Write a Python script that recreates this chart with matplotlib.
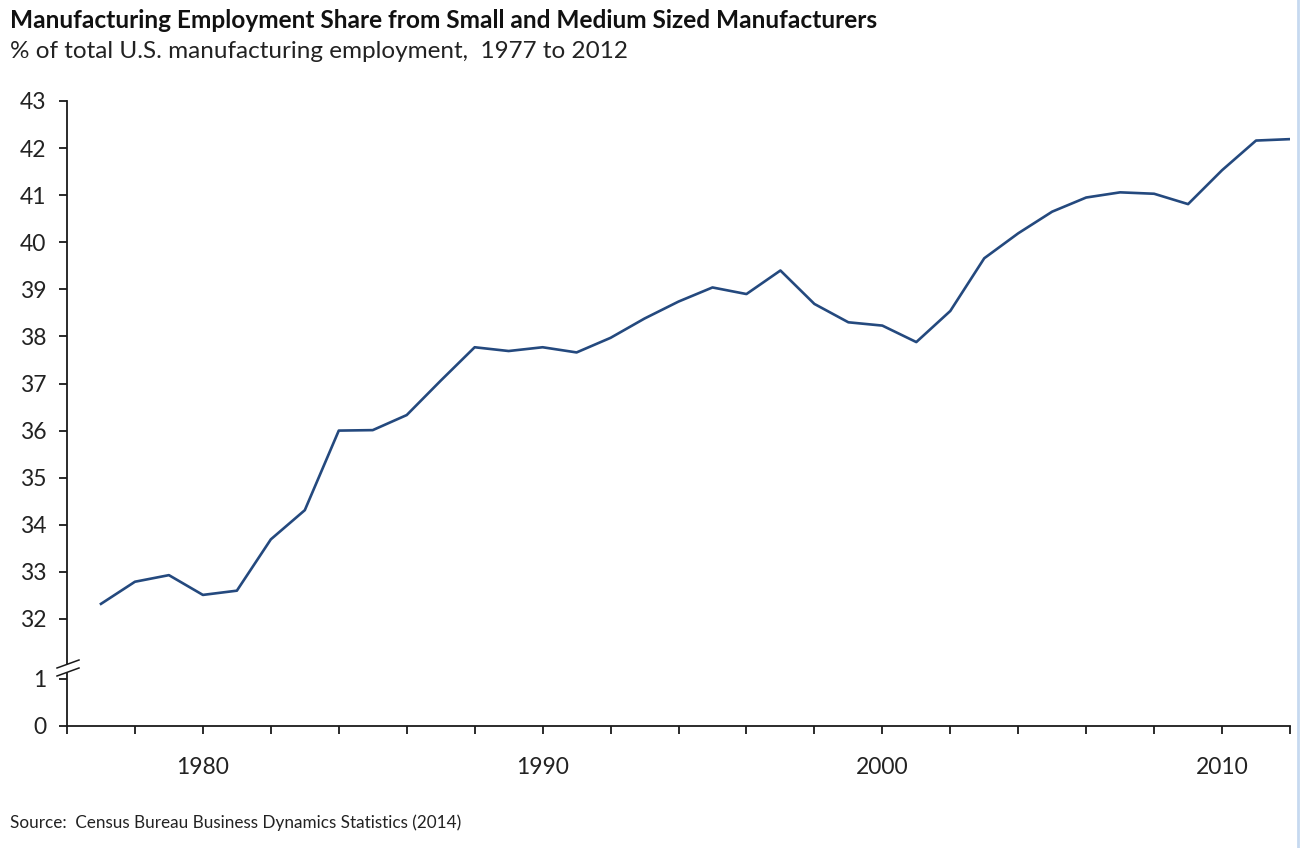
import numpy as np
import matplotlib.pyplot as plt
from matplotlib.ticker import FuncFormatter, NullLocator
from matplotlib.lines import Line2D
from matplotlib.patches import Polygon

# Share of U.S. manufacturing employment at small and medium sized firms (%)
years = np.arange(1977, 2013)
share = [32.32, 32.79, 32.93, 32.51, 32.60, 33.69, 34.31, 36.00, 36.01, 36.33,
         37.06, 37.77, 37.69, 37.77, 37.66, 37.97, 38.38, 38.74, 39.04, 38.90,
         39.40, 38.69, 38.30, 38.23, 37.88, 38.54, 39.66, 40.19, 40.65, 40.95,
         41.06, 41.03, 40.81, 41.53, 42.16, 42.19]

yticks = [0, 1] + list(range(32, 44))
label_years = [1980, 1990, 2000, 2010]

# broken y axis: 1..32 squeezed into a short gap
GAP = 1.274


def fwd(v):
    v = np.asarray(v, dtype=float)
    return np.where(v <= 1, v, np.where(v >= 32, v - 31 + GAP, 1 + (v - 1) * GAP / 31))


def inv(d):
    d = np.asarray(d, dtype=float)
    return np.where(d <= 1, d, np.where(d >= 1 + GAP, d + 31 - GAP, 1 + (d - 1) * 31 / GAP))


plt.rcParams['font.family'] = ['Lato', 'DejaVu Sans']

W, H = 1302, 848
fig = plt.figure(figsize=(W / 100, H / 100), dpi=100)
ax = fig.add_axes([67 / W, (H - 726) / H, (1290 - 67) / W, (726 - 101) / H])

ax.plot(years, share, color='#24497E', lw=1.9, solid_joinstyle='round')

ax.set_yscale('function', functions=(fwd, inv))
ax.set_ylim(0, 43)
ax.set_yticks(yticks)
ax.yaxis.set_minor_locator(NullLocator())
ax.set_xlim(1976, 2012)
ax.set_xticks(np.arange(1976, 2013, 2))
ax.xaxis.set_major_formatter(FuncFormatter(
    lambda x, _: str(int(round(x))) if int(round(x)) in label_years else ''))

for s in ['top', 'right']:
    ax.spines[s].set_visible(False)
for s in ['left', 'bottom']:
    ax.spines[s].set_linewidth(1.3)
    ax.spines[s].set_color('#1a1a1a')

ax.tick_params(axis='y', length=6, width=1.3, color='#1a1a1a', pad=9,
               labelsize=16.5, labelcolor='#222222')
ax.tick_params(axis='x', length=6, width=1.3, color='#1a1a1a', pad=16,
               labelsize=16.5, labelcolor='#222222')

# axis break marks
def px(xp, yp):
    return ((xp - 67) / 1223, (726 - yp) / 625)


gap_poly = Polygon([px(58, 668), px(78, 660), px(78, 668), px(58, 676)],
                   closed=True, transform=ax.transAxes, facecolor='white',
                   edgecolor='none', clip_on=False, zorder=5)
ax.add_patch(gap_poly)
for dy in (0, 8):
    (x0, y0), (x1, y1) = px(57, 668 + dy), px(79, 660 + dy)
    ax.add_line(Line2D([x0, x1], [y0, y1], transform=ax.transAxes,
                       color='#1a1a1a', lw=1.1, clip_on=False, zorder=6))

fig.text(10 / W, 1 - 20 / H, 'Manufacturing Employment Share from Small and Medium Sized Manufacturers',
         fontsize=17.6, fontweight='bold', va='center', ha='left', color='#111111')
fig.text(10 / W, 1 - 51 / H, '% of total U.S. manufacturing employment,  1977 to 2012',
         fontsize=17.5, va='center', ha='left', color='#222222')
fig.text(10 / W, 1 - 823 / H, 'Source:  Census Bureau Business Dynamics Statistics (2014)',
         fontsize=12.3, va='center', ha='left', color='#222222')

# light frame edge on the right
fig.add_artist(Line2D([1298 / W, 1298 / W], [0, 1], transform=fig.transFigure,
                      color='#C6D9F0', lw=2))

fig.savefig('out.png', dpi=100)
